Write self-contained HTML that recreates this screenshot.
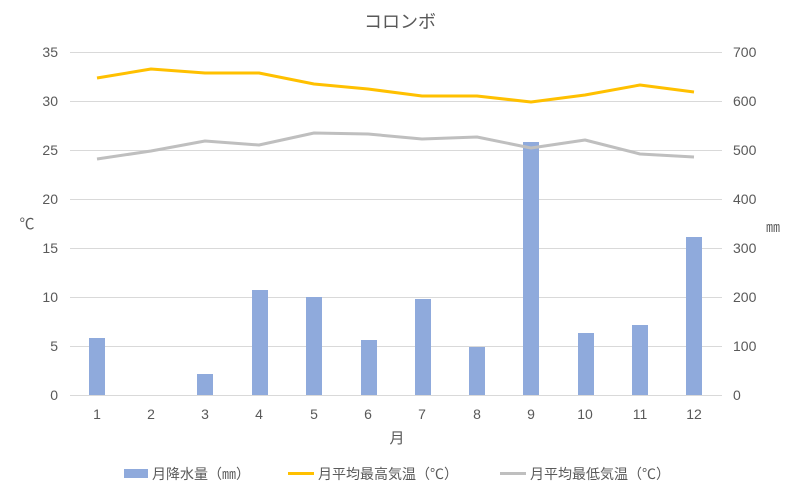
<!DOCTYPE html>
<html><head><meta charset="utf-8"><style>
body{margin:0;background:#fff}
svg text{font-family:"Liberation Sans","Noto Sans CJK JP",sans-serif;fill:#595959}
</style></head><body>
<svg width="800" height="495" viewBox="0 0 800 495" xmlns="http://www.w3.org/2000/svg">
<rect width="800" height="495" fill="#fff"/>
<text x="400" y="28" font-size="18" text-anchor="middle">コロンボ</text>
<g stroke="#d9d9d9" stroke-width="1">
<line x1="70" x2="722" y1="52.5" y2="52.5"/><line x1="70" x2="722" y1="101.5" y2="101.5"/>
<line x1="70" x2="722" y1="150.5" y2="150.5"/><line x1="70" x2="722" y1="199.5" y2="199.5"/>
<line x1="70" x2="722" y1="248.5" y2="248.5"/><line x1="70" x2="722" y1="297.5" y2="297.5"/>
<line x1="70" x2="722" y1="346.5" y2="346.5"/><line x1="70" x2="722" y1="395.5" y2="395.5"/>
</g>
<g font-size="14" text-anchor="end">
<text x="58" y="57">35</text><text x="58" y="106">30</text><text x="58" y="155">25</text><text x="58" y="204">20</text>
<text x="58" y="253">15</text><text x="58" y="302">10</text><text x="58" y="351">5</text><text x="58" y="400">0</text>
</g>
<g font-size="14" text-anchor="start">
<text x="733" y="57">700</text><text x="733" y="106">600</text><text x="733" y="155">500</text><text x="733" y="204">400</text>
<text x="733" y="253">300</text><text x="733" y="302">200</text><text x="733" y="351">100</text><text x="733" y="400">0</text>
</g>
<text x="27" y="229" font-size="15" text-anchor="middle">℃</text>
<text x="773" y="232" font-size="14" text-anchor="middle">㎜</text>
<g fill="#8faadc">
<rect x="89" y="338" width="16" height="57"/>
<rect x="197" y="374" width="16" height="21"/>
<rect x="252" y="290" width="16" height="105"/>
<rect x="306" y="297" width="16" height="98"/>
<rect x="361" y="340" width="16" height="55"/>
<rect x="415" y="299" width="16" height="96"/>
<rect x="469" y="347" width="16" height="48"/>
<rect x="523" y="142" width="16" height="253"/>
<rect x="578" y="333" width="16" height="62"/>
<rect x="632" y="325" width="16" height="70"/>
<rect x="686" y="237" width="16" height="158"/>
</g>
<polyline fill="none" stroke="#ffc000" stroke-width="3" stroke-linejoin="round" points="97,78 151,69 205,73 259,73 314,84 368,89 422,96 477,96 531,102 585,95 640,85 694,92"/>
<polyline fill="none" stroke="#bfbfbf" stroke-width="3" stroke-linejoin="round" points="97,159 151,151 205,141 259,145 314,133 368,134 422,139 477,137 531,148 585,140 640,154 694,157"/>
<g font-size="14" text-anchor="middle">
<text x="97" y="419">1</text><text x="151" y="419">2</text><text x="205" y="419">3</text><text x="259" y="419">4</text>
<text x="314" y="419">5</text><text x="368" y="419">6</text><text x="422" y="419">7</text><text x="477" y="419">8</text>
<text x="531" y="419">9</text><text x="585" y="419">10</text><text x="640" y="419">11</text><text x="694" y="419">12</text>
</g>
<text x="397" y="443" font-size="15" text-anchor="middle">月</text>
<rect x="124" y="469" width="24" height="9" fill="#8faadc"/>
<text x="152" y="479" font-size="14">月降水量（㎜）</text>
<line x1="288" x2="314" y1="473.5" y2="473.5" stroke="#ffc000" stroke-width="3"/>
<text x="318" y="479" font-size="14">月平均最高気温（℃）</text>
<line x1="500" x2="526" y1="473.5" y2="473.5" stroke="#bfbfbf" stroke-width="3"/>
<text x="530" y="479" font-size="14">月平均最低気温（℃）</text>
</svg>
</body></html>
